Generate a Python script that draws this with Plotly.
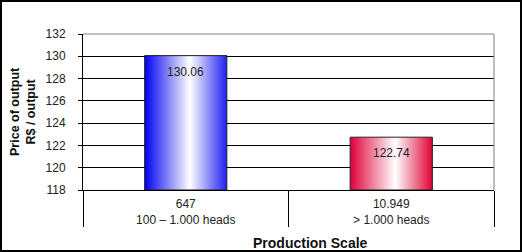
import plotly.graph_objects as go

categories = ["100 – 1.000 heads", "> 1.000 heads"]
counts = ["647", "10.949"]
prices = [130.06, 122.74]
y_ticks = [118, 120, 122, 124, 126, 128, 130, 132]
bar_colorscales = [
    [[0, "#0000f0"], [0.55, "#ffffff"], [1, "#2020f0"]],
    [[0, "#e0003a"], [0.55, "#ffffff"], [1, "#e00035"]],
]

W, H = 522, 252
ml, mr, mt, mb = 83, 28, 34, 62
base = 118
bw = 0.4
font = "Liberation Sans, Arial, sans-serif"

fig = go.Figure()
for i, (v, cs) in enumerate(zip(prices, bar_colorscales)):
    x0, x1 = i - bw / 2, i + bw / 2
    fig.add_trace(go.Scatter(
        x=[x0, x1, x1, x0, x0], y=[base, base, v, v, base],
        mode="lines", fill="toself",
        fillgradient=dict(type="horizontal", colorscale=cs),
        line=dict(color="#222222", width=1),
        hoverinfo="skip", showlegend=False))
    fig.add_annotation(x=i, y=v, text=f"{v:.2f}", showarrow=False,
                       yanchor="top", yshift=-7,
                       font=dict(family=font, size=12, color="#222222"))

pw, ph = W - ml - mr, H - mt - mb
fig.update_layout(
    width=W, height=H,
    margin=dict(l=ml, r=mr, t=mt, b=mb),
    paper_bgcolor="white", plot_bgcolor="white",
    showlegend=False,
    xaxis=dict(range=[-0.5, 1.5], tickvals=[0, 1],
               ticktext=[f"{c}<br>{t}" for c, t in zip(counts, categories)],
               ticks="", showgrid=False, zeroline=False,
               showline=True, linecolor="#000000", linewidth=1,
               ticklabelstandoff=3,
               tickfont=dict(family=font, size=12, color="#222222"),
               minor=dict(tickvals=[-0.5, 0.5, 1.5], ticks="outside", ticklen=36,
                          tickcolor="#000000", tickwidth=1, showgrid=False)),
    yaxis=dict(range=[118, 132], tickvals=y_ticks, ticks="outside", ticklen=4,
               tickcolor="#000000", showgrid=True, gridcolor="#000000", gridwidth=1,
               zeroline=False, showline=True, linecolor="#000000", linewidth=1,
               ticklabelstandoff=10,
               tickfont=dict(family=font, size=12, color="#222222")),
)
# top & right border of plot area (grey)
fig.add_shape(type="line", xref="paper", yref="paper", x0=0, x1=1, y0=1, y1=1,
              line=dict(color="#808080", width=1), layer="above")
fig.add_shape(type="line", xref="paper", yref="paper", x0=1, x1=1, y0=0, y1=1,
              line=dict(color="#808080", width=1), layer="above")
# outer border
fig.add_shape(type="rect", xref="paper", yref="paper",
              x0=(1 - ml) / pw, x1=(W - 1 - ml) / pw,
              y0=-(mb - 1) / ph, y1=(ph + mt - 1) / ph,
              line=dict(color="#000000", width=2), layer="above")
# axis titles
fig.add_annotation(xref="paper", yref="paper", x=(310 - ml) / pw, y=-(243 - mt - ph) / ph,
                   text="<b>Production Scale</b>", showarrow=False,
                   yanchor="middle", xanchor="center",
                   font=dict(family=font, size=14, color="#111111"))
fig.add_annotation(xref="paper", yref="paper", x=(23 - ml) / pw, y=(mt + ph - 112) / ph,
                   text="<b>Price of output<br>R$ / output</b>", showarrow=False,
                   textangle=-90, xanchor="center", yanchor="middle",
                   font=dict(family=font, size=12.5, color="#111111"))

fig.write_html("out.html")
